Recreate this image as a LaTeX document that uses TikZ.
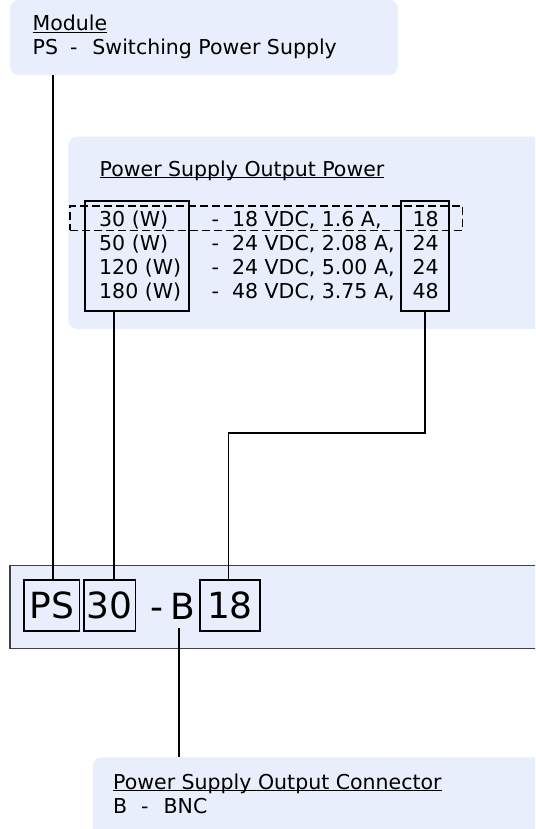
\documentclass[tikz,border=0pt]{standalone}
\usepackage{fontspec}
\setmainfont{DejaVu Sans}
\definecolor{panelfill}{RGB}{232,238,252}
\definecolor{frame}{RGB}{64,64,64}
\newcommand{\ulsm}[1]{\underline{\smash{#1}}}
\begin{document}
\begin{tikzpicture}[x=1pt,y=-1pt,
  panel/.style={fill=panelfill, draw=none, rounded corners=9pt, inner sep=0pt},
  txt/.style={anchor=base west, inner sep=0pt, font=\fontsize{20.5}{24}\selectfont},
  selbox/.style={draw=black, line width=1.7pt, inner sep=0pt},
  codebox/.style={draw=black, line width=1.5pt, inner sep=0pt, font=\fontsize{36}{40}\selectfont},
  wire/.style={draw=black, line width=1.8pt},
  choice/.style={draw=black, line width=1.4pt, dash pattern=on 8pt off 4pt, inner sep=0pt}]
\useasboundingbox (0,0) rectangle (535,829);
\clip (0,0) rectangle (535,829);

% panels
\node[panel, minimum width=388pt, minimum height=75pt] (module) at (204,37.5) {};
\node[panel, minimum width=491.7pt, minimum height=192.3pt] (outpanel) at (314.15,232.85) {};
\node[fill=panelfill, draw=frame, line width=1.6pt, minimum width=550pt, minimum height=83pt, inner sep=0pt] (code) at (285,607) {};
\node[panel, minimum width=467.3pt, minimum height=92.7pt] (connpanel) at (326.35,803.65) {};

% module texts
\node[txt] (modtitle) at (32.5,30.7) {\ulsm{Module}};
\node[txt] (moddesc) at (32.5,55) {PS\hspace{12pt}-\hspace{15pt}Switching Power Supply};

% output power
\node[txt] (powtitle) at (99.5,176) {\ulsm{Power Supply Output Power}};
\node[selbox, minimum width=104.3pt, minimum height=110pt] (pw) at (137.15,256) {};
\node[selbox, minimum width=48.6pt, minimum height=110pt] (vb) at (425,256) {};
\node[choice, minimum width=392.7pt, minimum height=24.3pt] (sel) at (266.35,218.15) {};

\node[txt] (w1) at (99,226.7) {30 (W)};
\node[txt] (w2) at (99,250.7) {50 (W)};
\node[txt] (w3) at (99,274.7) {120 (W)};
\node[txt] (w4) at (99,298.7) {180 (W)};
\node[txt] (d1) at (211.5,226.7) {-\ \ 18 VDC, 1.6 A,};
\node[txt] (d2) at (211.5,250.7) {-\ \ 24 VDC, 2.08 A,};
\node[txt] (d3) at (211.5,274.7) {-\ \ 24 VDC, 5.00 A,};
\node[txt] (d4) at (211.5,298.7) {-\ \ 48 VDC, 3.75 A,};
\node[txt] (v1) at (412.5,226.7) {18};
\node[txt] (v2) at (412.5,250.7) {24};
\node[txt] (v3) at (412.5,274.7) {24};
\node[txt] (v4) at (412.5,298.7) {48};

% code boxes
\node[codebox, fill=panelfill, minimum width=55.3pt, minimum height=51pt] (ps) at (51.65,605.5) {PS};
\node[codebox, fill=panelfill, minimum width=51.7pt, minimum height=51pt] (n30) at (109.85,605.5) {30};
\node[anchor=base west, inner sep=0pt, font=\fontsize{36}{40}\selectfont] (dashb) at (150.5,619) {-\hspace{7pt}B};
\node[codebox, fill=panelfill, minimum width=60pt, minimum height=51pt] (n18) at (230,605.5) {18};
\coordinate (bfoot) at (179.3,628);

% connector panel
\node[txt] (conntitle) at (113,789) {\ulsm{Power Supply Output Connector}};
\node[txt] (conndesc) at (113,813) {B\hspace{14pt}-\hspace{15pt}BNC};

% wires
\draw[wire] ([xshift=1.6pt]ps.north) -- ([xshift=1.6pt]ps.north |- module.south);
\draw[wire] ([xshift=4pt]n30.north) -- ([xshift=4pt]n30.north |- pw.south);
\draw[wire] (vb.south) -- ++(0,121.3) -| ([xshift=-1.5pt]n18.north);
\draw[wire] (bfoot) -- (bfoot |- connpanel.north);
\end{tikzpicture}
\end{document}
